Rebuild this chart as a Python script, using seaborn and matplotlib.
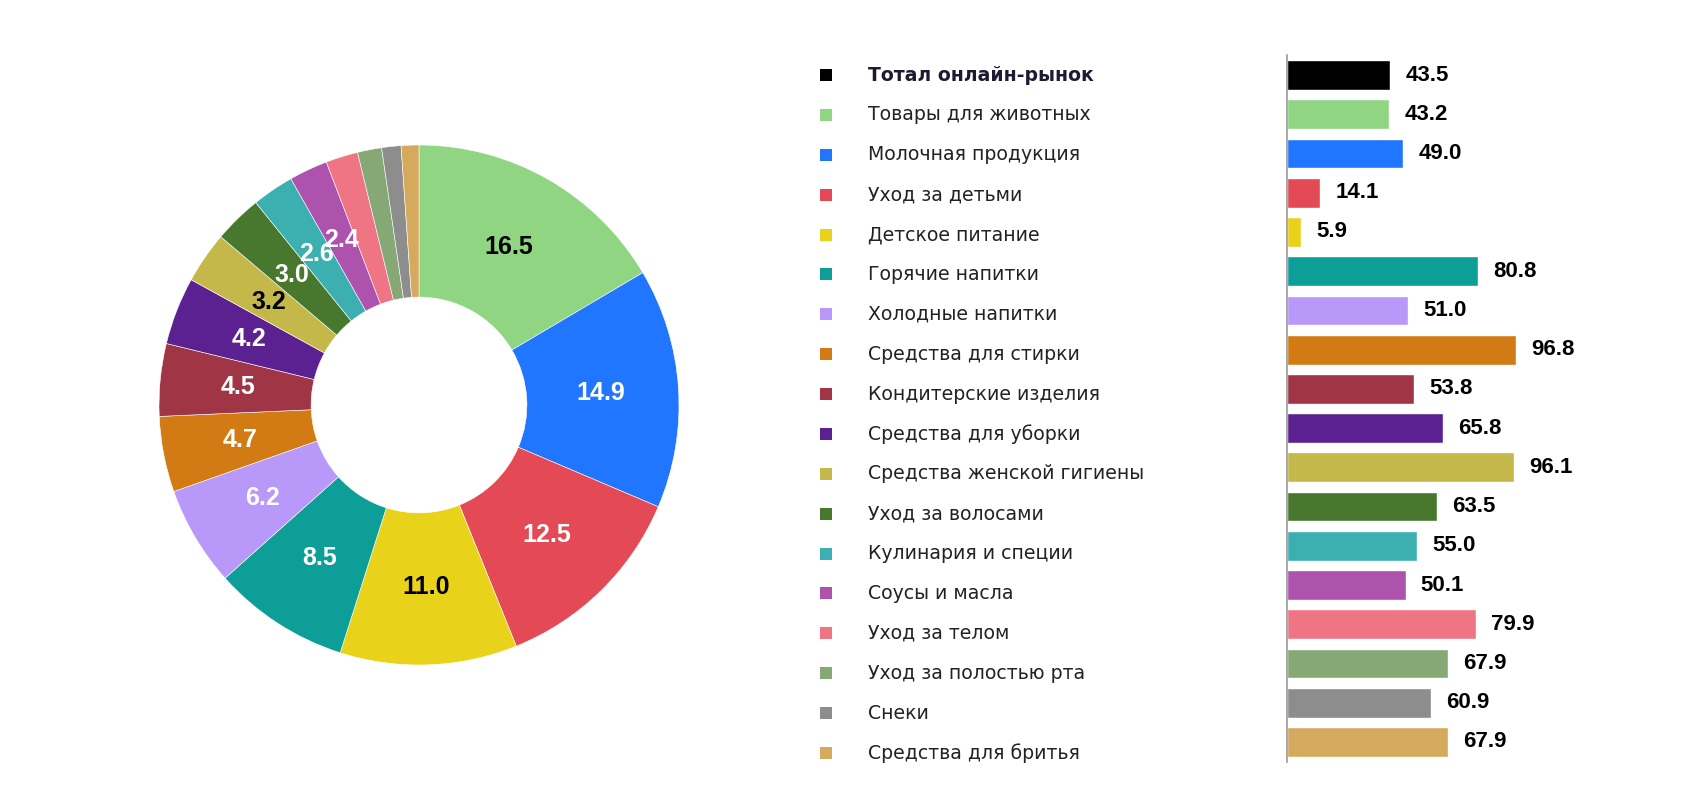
import matplotlib
matplotlib.use("Agg")
import numpy as np
import matplotlib.pyplot as plt
import seaborn as sns

# categories (first row is the total, it only appears in the bar chart)
categories = [
    "Тотал онлайн-рынок",
    "Товары для животных",
    "Молочная продукция",
    "Уход за детьми",
    "Детское питание",
    "Горячие напитки",
    "Холодные напитки",
    "Средства для стирки",
    "Кондитерские изделия",
    "Средства для уборки",
    "Средства женской гигиены",
    "Уход за волосами",
    "Кулинария и специи",
    "Соусы и масла",
    "Уход за телом",
    "Уход за полостью рта",
    "Снеки",
    "Средства для бритья",
]

# donut: share of each category (no total)
share = [16.5, 14.9, 12.5, 11.0, 8.5, 6.2, 4.7, 4.5, 4.2, 3.2, 3.0, 2.6, 2.4,
         2.0, 1.5, 1.2, 1.1]
share_labels = ["16.5", "14.9", "12.5", "11.0", "8.5", "6.2", "4.7", "4.5",
                "4.2", "3.2", "3.0", "2.6", "2.4", "", "", "", ""]
label_dark = ["16.5", "11.0", "3.2"]

# bars
bar_values = [43.5, 43.2, 49.0, 14.1, 5.9, 80.8, 51.0, 96.8, 53.8, 65.8,
              96.1, 63.5, 55.0, 50.1, 79.9, 67.9, 60.9, 67.9]

colors = [
    "#000000", "#8fd582", "#2176ff", "#e44a55", "#e8d31a", "#0e9e98",
    "#b898f8", "#d27b14", "#a03545", "#5b2190", "#c4b84a", "#47782e",
    "#3cb0b0", "#ad52ad", "#ef7585", "#85a874", "#8d8d8d", "#d6aa5c",
]

sns.set_style("white")
plt.rcParams["font.family"] = ["Liberation Sans", "DejaVu Sans"]

fig = plt.figure(figsize=(17.05, 7.85), dpi=100)

# --- donut ---
ax_pie = fig.add_axes([159 / 1705, 120 / 785, 520 / 1705, 520 / 785])
wedges, _ = ax_pie.pie(
    share, colors=colors[1:], startangle=90, counterclock=False, radius=1,
    wedgeprops=dict(width=0.585, edgecolor="white", linewidth=0.4),
)
for w, lab in zip(wedges, share_labels):
    if not lab:
        continue
    ang = np.deg2rad((w.theta1 + w.theta2) / 2)
    ax_pie.text(0.7 * np.cos(ang), 0.7 * np.sin(ang), lab,
                ha="center", va="center", fontsize=18, fontweight="bold",
                color="black" if lab in label_dark else "white")
ax_pie.set_xlim(-1, 1)
ax_pie.set_ylim(-1, 1)
ax_pie.set_aspect("equal")
ax_pie.axis("off")

# --- legend ---
n = len(categories)
ax_leg = fig.add_axes([800 / 1705, 12.1 / 785, 450 / 1705, 717.8 / 785])
sns.scatterplot(x=np.full(n, 26), y=np.arange(n), hue=categories,
                palette=colors, marker="s", s=74, linewidth=0,
                legend=False, ax=ax_leg)
for i, name in enumerate(categories):
    ax_leg.text(68, i, name, va="center", ha="left",
                fontsize=13.6, family=["DejaVu Sans"],
                fontweight="bold" if i == 0 else "normal",
                color="#1b1b33" if i == 0 else "#222222")
ax_leg.set_xlim(0, 450)
ax_leg.set_ylim(n - 0.5, -0.5)
ax_leg.axis("off")

# --- bars ---
ax_bar = fig.add_axes([1287 / 1705, 23.4 / 785, 307.5 / 1705, 706.2 / 785])
sns.barplot(x=bar_values, y=categories, hue=categories, palette=colors,
            saturation=1, width=0.76, orient="h", legend=False, ax=ax_bar)
for cont in ax_bar.containers:
    ax_bar.bar_label(cont, fmt="%.1f", padding=11, fontsize=16,
                     fontweight="bold", color="black")
ax_bar.set_xlim(0, 130)
ax_bar.set_ylim(n - 0.5, -0.5)
ax_bar.set_xticks([])
ax_bar.set_yticks([])
ax_bar.set_xlabel("")
ax_bar.set_ylabel("")
for side in ["top", "right", "bottom"]:
    ax_bar.spines[side].set_visible(False)
ax_bar.spines["left"].set_color("#9a9a9a")
ax_bar.spines["left"].set_linewidth(1.2)

fig.savefig("out.png", dpi=100, facecolor="white")
